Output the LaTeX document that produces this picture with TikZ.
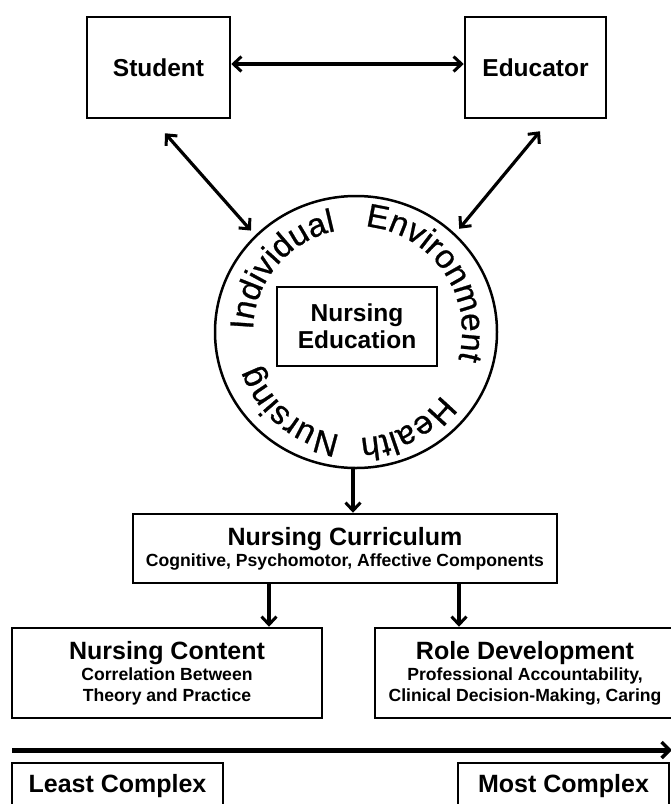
\documentclass[tikz,border=0pt]{standalone}
\usepackage{fontspec}
\setmainfont{Liberation Sans}
\usetikzlibrary{arrows.meta,decorations.text,shapes.geometric}
\newcommand\headfont{\fontsize{24.5}{29}\selectfont}
\newcommand\titlefont{\fontsize{25}{28}\selectfont}
\newcommand\subfont{\fontsize{17.6}{21}\selectfont}
\newcommand\ringfont{\fontsize{33}{33}\selectfont\addfontfeature{FakeBold=0.8}}
\begin{document}
\begin{tikzpicture}[x=1pt, y=1pt,
	box/.style={draw, line width=2.5pt, rectangle, inner sep=0pt, align=center, font=\bfseries\subfont},
	link/.style={line width=3.2pt, -{Straight Barb[length=8pt,width=15pt,line width=3pt]}},
	biglink/.style={line width=3.2pt, {Straight Barb[length=8pt,width=15pt,line width=3pt]}-{Straight Barb[length=8pt,width=15pt,line width=3pt]}},
	ring/.style={decorate, decoration={text along path, text align=center, text={|\ringfont|#1}}}]
	\useasboundingbox (0,0) rectangle (671,-804);
	\node[box, minimum width=143pt, minimum height=101pt] (st) at (158.5,-67.5) {\headfont Student};
	\node[box, minimum width=141pt, minimum height=101pt] (ed) at (535.5,-67.5) {\headfont Educator};
	\node[draw, ellipse, line width=2.5pt, minimum width=282pt, minimum height=272pt, inner sep=0pt] (circ) at (356,-332) {};
	\node[box, minimum width=160pt, minimum height=79pt] (ne) at (357,-326.5) {\headfont Nursing\\[3pt]\headfont Education};
	\path[ring=Individual] ([shift={(220:103pt)}]circ.center) arc[start angle=220, end angle=60, radius=103pt];
	\path[ring=Environment] ([shift={(115:106pt)}]circ.center) arc[start angle=115, end angle=-45, radius=106pt];
	\path[ring=Health] ([shift={(18:106pt)}]circ.center) arc[start angle=18, end angle=-142, radius=106pt];
	\path[ring=Nursing] ([shift={(-50:104pt)}]circ.center) arc[start angle=-50, end angle=-210, radius=104pt];
	\node[box, minimum width=424pt, minimum height=69pt] (cu) at (345,-548.5) {{\titlefont Nursing Curriculum}\\Cognitive, Psychomotor, Affective Components};
	\node[box, minimum width=310pt, minimum height=90pt] (nc) at (167,-673) {{\titlefont Nursing Content}\\Correlation Between\\Theory and Practice};
	\node[box, minimum width=300pt, minimum height=90pt] (rd) at (525,-673) {{\titlefont Role Development}\\Professional Accountability,\\Clinical Decision-Making, Caring};
	\node[box, minimum width=211pt, minimum height=46pt] (lc) at (117.5,-786) {\titlefont Least Complex};
	\node[box, minimum width=211pt, minimum height=46pt] (mc) at (563.5,-786) {\titlefont Most Complex};
	\coordinate (sa) at ([shift={(136:146pt)}]circ.center);
	\coordinate (ea) at ([shift={(45:146pt)}]circ.center);
	\coordinate (lo) at (12,-750);
	\coordinate (hi) at (672,-750);
	\draw[biglink] ([yshift=3.5pt]st.east) -- ([yshift=3.5pt]ed.west);
	\draw[biglink] ([shift={(6.5pt,-14pt)}]st.south) -- (sa);
	\draw[biglink] ([shift={(4.5pt,-12pt)}]ed.south) -- (ea);
	\draw[link] ([xshift=-3pt]circ.south) -- ([xshift=-3pt]circ.south |- cu.north);
	\draw[link] ([xshift=-76pt]cu.south) -- ([xshift=-76pt]cu.south |- nc.north);
	\draw[link] ([xshift=114pt]cu.south) -- ([xshift=114pt]cu.south |- rd.north);
	\draw[line width=5pt, -{Straight Barb[length=8pt,width=16pt,line width=3.5pt]}] (lo) -- (hi);
\end{tikzpicture}
\end{document}
